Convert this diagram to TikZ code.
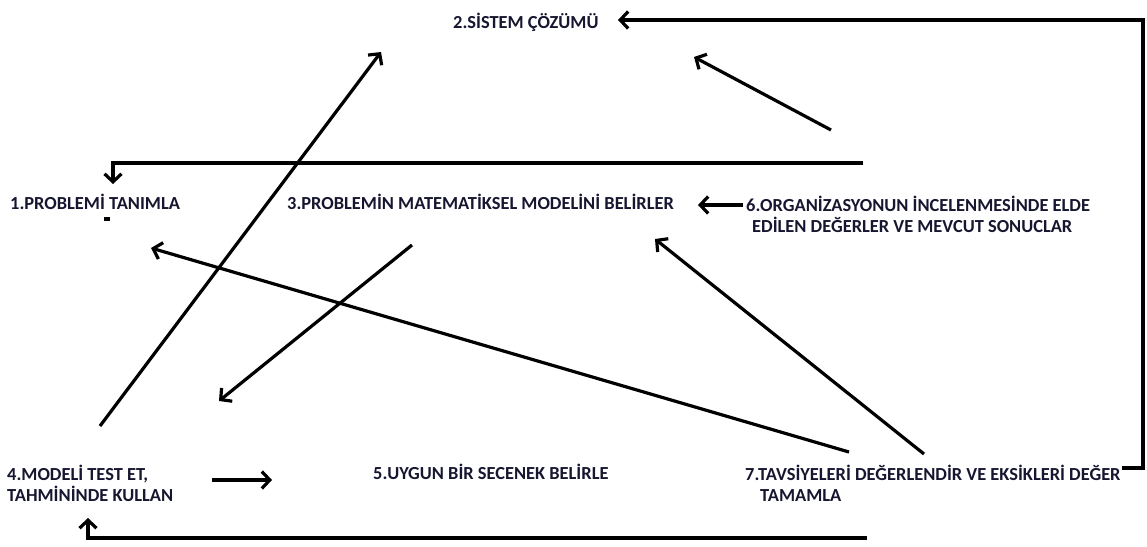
\documentclass[tikz,border=0pt]{standalone}
\usepackage{fontspec}
\setmainfont{Carlito}
\usetikzlibrary{arrows.meta}
\definecolor{inkdark}{RGB}{22,22,48}
\begin{document}
\begin{tikzpicture}[x=1pt,y=-1pt,
  label/.style={font=\fontsize{18.4}{21}\selectfont\bfseries, text=inkdark, inner sep=0pt, anchor=west},
  flow/.style={line width=3.2pt, line join=miter, -{Straight Barb[length=8pt,width=17pt,line width=3.2pt]}}]
\useasboundingbox (0,0) rectangle (1147,546);

% step labels
\node[label] (s2) at (453,22) {2.SİSTEM ÇÖZÜMÜ};
\node[label] (s1) at (10,202) {1.PROBLEMİ TANIMLA};
\node[label] (s3) at (287,202) {3.PROBLEMİN MATEMATİKSEL MODELİNİ BELİRLER};
\node[label, align=left] (s6) at (746,214) {6.ORGANİZASYONUN İNCELENMESİNDE ELDE\\\hspace{6pt}EDİLEN DEĞERLER VE MEVCUT SONUCLAR};
\node[label, align=left] (s4) at (7,483) {4.MODELİ TEST ET,\\TAHMİNİNDE KULLAN};
\node[label] (s5) at (373,472) {5.UYGUN BİR SECENEK BELİRLE};
\node[label, align=left] (s7) at (745,483) {7.TAVSİYELERİ DEĞERLENDİR VE EKSİKLERİ DEĞER\\\hspace{15pt}TAMAMLA};

% small mark under step 1
\fill (104,217) rectangle (110,221);

% connector end points
\coordinate (r7) at (1122,468);
\coordinate (rc) at (1143,468);
\coordinate (rt) at (1143,20);
\coordinate (h2) at (618,20);
\coordinate (a2s) at (831,130);
\coordinate (a2t) at (694,57);
\coordinate (t1s) at (863,163);
\coordinate (t1c) at (113,163);
\coordinate (t1t) at (113,184);
\coordinate (a6s) at (743,205);
\coordinate (a6t) at (698,205);
\coordinate (a4s) at (100,426);
\coordinate (a4t) at (381,52);
\coordinate (a3s) at (412,245);
\coordinate (a3t) at (219,401);
\coordinate (a71s) at (849,452);
\coordinate (a71t) at (151,248);
\coordinate (a73s) at (924,454);
\coordinate (a73t) at (655,239);
\coordinate (a45s) at (212,480);
\coordinate (a45t) at (272,480);
\coordinate (b7) at (867,538);
\coordinate (bc) at (88,538);
\coordinate (bt) at (88,518);

% connectors
\draw[flow] (r7) -- (rc) -- (rt) -- (h2);
\draw[flow] (a2s) -- (a2t);
\draw[flow] (t1s) -- (t1c) -- (t1t);
\draw[flow] (a6s) -- (a6t);
\draw[flow] (a4s) -- (a4t);
\draw[flow] (a3s) -- (a3t);
\draw[flow] (a71s) -- (a71t);
\draw[flow] (a73s) -- (a73t);
\draw[flow] (a45s) -- (a45t);
\draw[flow] (b7) -- (bc) -- (bt);
\end{tikzpicture}
\end{document}
